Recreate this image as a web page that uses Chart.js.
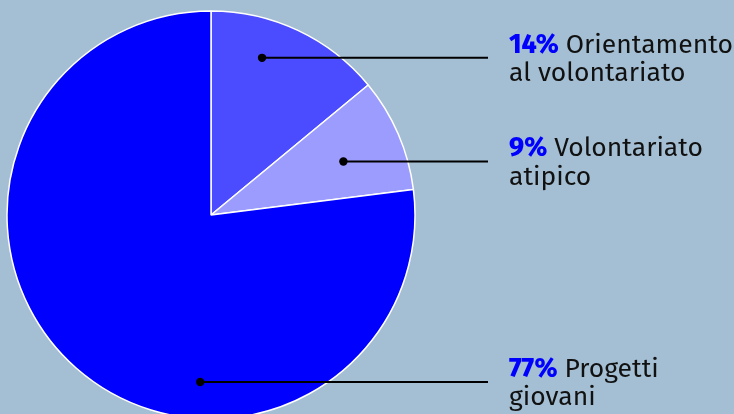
<!DOCTYPE html>
<html>
<head>
<meta charset="utf-8">
<script src="https://cdn.jsdelivr.net/npm/chart.js@4/dist/chart.umd.min.js"></script>
<style>
  html, body { margin: 0; padding: 0; background: #a4bfd3; overflow: hidden; }
  #wrap { width: 734px; height: 414px; position: relative; }
</style>
</head>
<body>
<div id="wrap"><canvas id="c" width="734" height="414"></canvas></div>
<script>
const categories = ["Orientamento al volontariato", "Volontariato atipico", "Progetti giovani"];
const values = [14, 9, 77];
const labelFirstLine = ["Orientamento", "Volontariato", "Progetti"];
const labelSecondLine = ["al volontariato", "atipico", "giovani"];
const sliceColors = ["#4b4bff", "#9c9cff", "#0000ff"];

// anchor of each leader dot inside its slice: fraction of slice angle, fraction of radius
const anchorAngleFrac = [0.357, 0.543, 0.364];
const anchorRadiusFrac = [0.81, 0.70, 0.82];

const FONT = '"Fira Sans", "Open Sans", sans-serif';
const FONT_SIZE = 26.5;

const labelPlugin = {
  id: 'leaderLabels',
  afterDatasetsDraw(chart) {
    const ctx = chart.ctx;
    const meta = chart.getDatasetMeta(0);
    const textX = 509;
    const lineEndX = 488;
    meta.data.forEach((arc, i) => {
      const p = arc.getProps(['x', 'y', 'startAngle', 'endAngle', 'outerRadius'], true);
      const a = p.startAngle + (p.endAngle - p.startAngle) * anchorAngleFrac[i];
      const r = p.outerRadius * anchorRadiusFrac[i];
      const dx = p.x + Math.cos(a) * r;
      const dy = p.y + Math.sin(a) * r;
      ctx.save();
      ctx.strokeStyle = '#000';
      ctx.lineWidth = 2;
      ctx.beginPath();
      ctx.moveTo(dx, dy);
      ctx.lineTo(lineEndX, dy);
      ctx.stroke();
      ctx.fillStyle = '#000';
      ctx.beginPath();
      ctx.arc(dx, dy, 4.2, 0, Math.PI * 2);
      ctx.fill();

      const b1 = dy - 5;
      const b2 = dy + 23.5;
      ctx.textBaseline = 'alphabetic';
      ctx.textAlign = 'left';
      const pct = values[i] + '%';
      ctx.font = '800 ' + FONT_SIZE + 'px ' + FONT;
      ctx.fillStyle = '#0000ff';
      ctx.fillText(pct, textX, b1);
      const w = ctx.measureText(pct).width;
      ctx.font = FONT_SIZE + 'px ' + FONT;
      const sp = ctx.measureText(' ').width;
      ctx.fillStyle = '#111';
      ctx.fillText(labelFirstLine[i], textX + w + sp, b1);
      ctx.fillText(labelSecondLine[i], textX, b2);
      ctx.restore();
    });
  }
};

new Chart(document.getElementById('c'), {
  type: 'pie',
  data: {
    labels: categories,
    datasets: [{
      data: values,
      backgroundColor: sliceColors,
      borderColor: '#ffffff',
      borderWidth: 1.5
    }]
  },
  options: {
    responsive: false,
    animation: false,
    radius: 204,
    layout: { padding: { left: 0, right: 312, top: 16, bottom: 0 } },
    plugins: { legend: { display: false }, tooltip: { enabled: false } }
  },
  plugins: [labelPlugin]
});
</script>
</body>
</html>
